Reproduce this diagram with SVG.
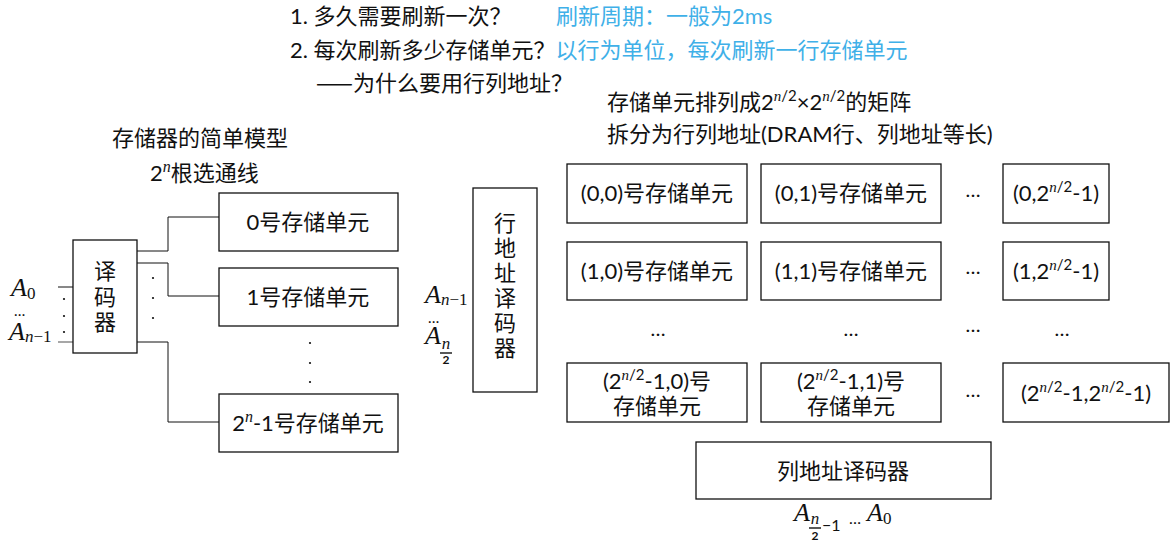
<svg xmlns="http://www.w3.org/2000/svg" width="1176" height="543" viewBox="0 0 1176 543">
<style>
svg{font-family:Lato,"Noto Sans CJK SC",sans-serif;font-size:22px}
text{fill:#111}
.blue{fill:#3fb0e8}
.cjk{font-family:"Noto Sans CJK SC",sans-serif}
.m{font-family:"Liberation Serif","DejaVu Serif",serif;font-style:italic}
.A{font-family:"Liberation Serif","DejaVu Serif",serif;font-style:italic;font-size:26px}
.box{fill:#fff;stroke:#111;stroke-width:1.3}
.ln{fill:none;stroke:#111;stroke-width:1}
.c{text-anchor:middle}
.dot{fill:#111}
.el{font-size:20px;text-anchor:middle}
</style>

<g id="header">
<text x="290" y="24">1. 多久需要刷新一次？</text>
<text class="blue" x="556" y="24">刷新周期：一般为2ms</text>
<text x="290" y="58">2. 每次刷新多少存储单元？<tspan class="blue">以行为单位，每次刷新一行存储单元</tspan></text>
<text x="316" y="91"><tspan class="cjk">——</tspan>为什么要用行列地址？</text>
<text x="607" y="110">存储单元排列成2<tspan class="m" font-size="15" dy="-9">n</tspan><tspan font-size="15">/2</tspan><tspan dy="9">×2</tspan><tspan class="m" font-size="15" dy="-9">n</tspan><tspan font-size="15">/2</tspan><tspan dy="9">的矩阵</tspan></text>
<text x="607" y="142">拆分为行列地址(DRAM行、列地址等长)</text>
<text x="200" y="146" class="c">存储器的简单模型</text>
<text x="150" y="181">2<tspan class="m" font-size="16" dy="-9">n</tspan><tspan dy="9">根选通线</tspan></text>
</g>

<g id="connectors">
<line class="ln" x1="58" y1="287" x2="73" y2="287"/>
<line x1="58" y1="342" x2="73" y2="342" stroke="#777" stroke-width="1.3"/>
<polyline class="ln" points="137,251 168,251 168,217 219,217"/>
<polyline class="ln" points="137,263 168,263 168,296 219,296"/>
<polyline class="ln" points="137,342 168,342 168,422 219,422"/>
</g>

<g id="simple-decoder">
<rect class="box" x="73" y="240" width="64" height="113"/>
<text class="c" x="105" y="279">译</text>
<text class="c" x="105" y="305">码</text>
<text class="c" x="105" y="330">器</text>
<text class="A" x="11" y="296">A<tspan font-size="17" font-style="normal" dy="3">0</tspan></text>
<text x="14" y="316" font-size="15">…</text>
<text class="A" x="9" y="340">A<tspan font-size="17" dy="2">n</tspan><tspan font-size="17" font-style="normal">−1</tspan></text>
<circle class="dot" cx="64" cy="299" r="1.1"/>
<circle class="dot" cx="64" cy="316" r="1.1"/>
<circle class="dot" cx="64" cy="332" r="1.1"/>
<circle class="dot" cx="153" cy="278" r="1.1"/>
<circle class="dot" cx="153" cy="298" r="1.1"/>
<circle class="dot" cx="153" cy="318" r="1.1"/>
</g>

<g id="cell-0">
<rect class="box" x="219" y="193" width="179" height="58"/>
<text class="c" x="308" y="230">0号存储单元</text>
</g>
<g id="cell-1">
<rect class="box" x="219" y="268" width="179" height="58"/>
<text class="c" x="308" y="305">1号存储单元</text>
</g>
<g id="vdots">
<circle class="dot" cx="310" cy="343" r="1.1"/>
<circle class="dot" cx="310" cy="363" r="1.1"/>
<circle class="dot" cx="310" cy="382" r="1.1"/>
</g>
<g id="cell-last">
<rect class="box" x="219" y="394" width="179" height="58"/>
<text class="c" x="308" y="431">2<tspan class="m" font-size="16" dy="-9">n</tspan><tspan dy="9">-1号存储单元</tspan></text>
</g>

<g id="row-decoder">
<rect class="box" x="473" y="188" width="64" height="204"/>
<text class="c" x="505" y="231">行</text>
<text class="c" x="505" y="256">地</text>
<text class="c" x="505" y="281">址</text>
<text class="c" x="505" y="306">译</text>
<text class="c" x="505" y="331">码</text>
<text class="c" x="505" y="356">器</text>
<text class="A" x="425" y="303">A<tspan font-size="17" dy="2">n</tspan><tspan font-size="17" font-style="normal">−1</tspan></text>
<text x="428" y="323" font-size="15">…</text>
<text class="A" x="425" y="344">A</text>
<text class="m" x="446" y="349" font-size="17" text-anchor="middle">n</text>
<line x1="440" y1="353" x2="452" y2="353" stroke="#111" stroke-width="1.4"/>
<text x="446" y="364" font-size="12" text-anchor="middle" font-weight="bold">2</text>
</g>

<g id="cell-00"><rect class="box" x="567" y="164" width="180" height="59"/><text class="c" x="657" y="201">(0,0)号存储单元</text></g>
<g id="cell-01"><rect class="box" x="761" y="164" width="180" height="59"/><text class="c" x="851" y="201">(0,1)号存储单元</text></g>
<g id="cell-0last"><rect class="box" x="1003" y="164" width="106" height="59"/><text class="c" x="1056" y="201">(0,2<tspan class="m" font-size="15" dy="-9">n</tspan><tspan font-size="15">/2</tspan><tspan dy="9">-1)</tspan></text></g>

<g id="cell-10"><rect class="box" x="567" y="242" width="180" height="58"/><text class="c" x="657" y="279">(1,0)号存储单元</text></g>
<g id="cell-11"><rect class="box" x="761" y="242" width="180" height="58"/><text class="c" x="851" y="279">(1,1)号存储单元</text></g>
<g id="cell-1last"><rect class="box" x="1003" y="242" width="106" height="58"/><text class="c" x="1056" y="279">(1,2<tspan class="m" font-size="15" dy="-9">n</tspan><tspan font-size="15">/2</tspan><tspan dy="9">-1)</tspan></text></g>

<g id="ellipses">
<text class="el" x="973" y="197">…</text>
<text class="el" x="973" y="274">…</text>
<text class="el" x="658" y="336">…</text>
<text class="el" x="851" y="336">…</text>
<text class="el" x="973" y="332">…</text>
<text class="el" x="1062" y="336">…</text>
<text class="el" x="973" y="397">…</text>
</g>

<g id="cell-last0"><rect class="box" x="567" y="363" width="180" height="59"/><text class="c" x="657" y="389">(2<tspan class="m" font-size="15" dy="-9">n</tspan><tspan font-size="15">/2</tspan><tspan dy="9">-1,0)号</tspan></text><text class="c" x="657" y="414">存储单元</text></g>
<g id="cell-last1"><rect class="box" x="761" y="363" width="180" height="59"/><text class="c" x="851" y="389">(2<tspan class="m" font-size="15" dy="-9">n</tspan><tspan font-size="15">/2</tspan><tspan dy="9">-1,1)号</tspan></text><text class="c" x="851" y="414">存储单元</text></g>
<g id="cell-lastlast"><rect class="box" x="1003" y="363" width="166" height="59"/><text class="c" x="1086" y="401">(2<tspan class="m" font-size="15" dy="-9">n</tspan><tspan font-size="15">/2</tspan><tspan dy="9">-1,2</tspan><tspan class="m" font-size="15" dy="-9">n</tspan><tspan font-size="15">/2</tspan><tspan dy="9">-1)</tspan></text></g>

<g id="col-decoder">
<rect class="box" x="696" y="442" width="295" height="57"/>
<text class="c" x="843" y="479">列地址译码器</text>
<text class="A" x="794" y="521">A</text>
<text class="m" x="815" y="524" font-size="17" text-anchor="middle">n</text>
<line x1="809" y1="528" x2="821" y2="528" stroke="#111" stroke-width="1.4"/>
<text x="815" y="540" font-size="12" text-anchor="middle" font-weight="bold">2</text>
<text x="822" y="531" font-size="16">−1</text>
<text x="849" y="524" font-size="16">…</text>
<text class="A" x="867" y="521">A<tspan font-size="17" font-style="normal" dy="3">0</tspan></text>
</g>
</svg>
